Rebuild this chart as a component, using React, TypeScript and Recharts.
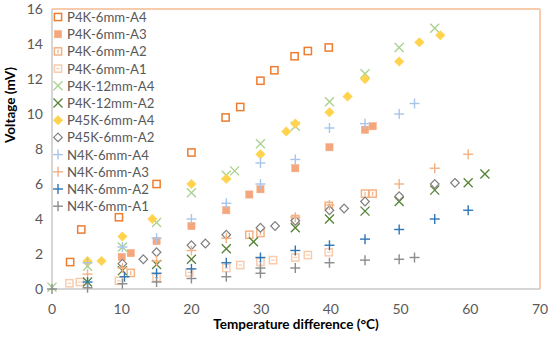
import React from 'react';
import { ScatterChart, Scatter, XAxis, YAxis, ReferenceLine, Label } from 'recharts';

type Pt = { x: number; y: number };
const P = (arr: number[][]): Pt[] => arr.map(([x, y]) => ({ x, y }));

const xTicks = [0, 10, 20, 30, 40, 50, 60, 70];
const yTicks = [0, 2, 4, 6, 8, 10, 12, 14, 16];

const p4k6A4 = P([[2.6,1.54],[4.2,3.4],[9.6,4.1],[15,6.0],[20,7.8],[24.9,9.8],[27,10.4],[29.9,11.9],[31.9,12.5],[34.8,13.3],[36.7,13.6],[39.7,13.8]]);
const p4k6A3 = P([[10,1.83],[11.3,2.05],[15,2.74],[20,3.6],[25,4.5],[28.3,5.4],[29.9,5.7],[34.9,6.9],[39.8,8.1],[44.9,9.1],[46,9.3]]);
const p4k6A2 = P([[11.3,0.92],[28.3,3.1],[29.9,3.2],[34.9,4.0],[39.7,4.75],[44.9,5.45],[46,5.45]]);
const p4k6A1 = P([[2.5,0.33],[4,0.4],[9.6,0.47],[15,0.65],[19.7,0.95],[25,1.2],[27,1.37],[29.9,1.55],[31.7,1.65],[34.9,1.8],[36.7,1.94],[39.7,2.1]]);
const p4k12A4 = P([[0,0.1],[5.1,1.3],[10.1,2.4],[15,3.8],[20,5.5],[25,6.5],[26.2,6.75],[29.9,8.3],[34.9,9.3],[39.8,10.7],[44.9,12.3],[49.8,13.8],[54.9,14.9]]);
const p4k12A2 = P([[5.1,0.4],[10.1,1.05],[15,1.4],[20,1.7],[25,2.3],[28.9,2.7],[34.9,3.5],[39.8,4.0],[44.9,4.45],[49.8,5.0],[54.9,5.65],[59.7,6.07],[62.1,6.57]]);
const p45k6A4 = P([[5.1,1.6],[7.1,1.6],[10.1,3.0],[14.4,4.0],[20,6.0],[25,6.3],[29.9,7.7],[33.6,9.0],[34.9,9.45],[39.8,10.1],[42.4,11.0],[44.9,12.0],[49.8,13.0],[52.7,14.1],[55.7,14.5]]);
const p45k6A2 = P([[10.1,1.45],[13.1,1.7],[15,2.1],[20,2.5],[22,2.6],[25,3.1],[29.9,3.5],[32,3.6],[34.9,3.9],[39.8,4.5],[41.9,4.6],[44.9,5.0],[49.8,5.3],[54.9,6.0],[57.8,6.07]]);
const n4k6A4 = P([[5.1,1.5],[10.1,2.4],[15,2.9],[20,4.0],[25,4.9],[29.9,6.0],[29.9,7.2],[34.9,7.4],[39.8,9.2],[44.9,9.45],[49.8,10.0],[52,10.6]]);
const n4k6A3 = P([[5.1,0.85],[10.1,1.2],[15,1.6],[20,2.2],[25,2.9],[34.9,4.1],[39.8,4.8],[49.8,6.0],[54.9,6.9],[59.7,7.7]]);
const n4k6A2 = P([[5.1,0.4],[10.4,0.7],[15,0.9],[20,1.15],[25,1.5],[29.9,1.8],[34.9,2.2],[39.8,2.5],[44.9,2.85],[49.8,3.4],[54.9,4.0],[59.7,4.5]]);
const n4k6A1 = P([[0,0],[5.1,0.07],[10.1,0.3],[15,0.4],[20,0.6],[25,0.7],[29.9,0.9],[29.9,1.2],[34.9,1.2],[39.8,1.5],[44.9,1.65],[49.8,1.7],[52,1.8]]);

type Kind = 'sq' | 'sqFill' | 'sqBar' | 'sqDash' | 'x' | 'diaFill' | 'dia' | 'plus';
const seriesNames = ['P4K-6mm-A4','P4K-6mm-A3','P4K-6mm-A2','P4K-6mm-A1','P4K-12mm-A4','P4K-12mm-A2','P45K-6mm-A4','P45K-6mm-A2','N4K-6mm-A4','N4K-6mm-A3','N4K-6mm-A2','N4K-6mm-A1'];
const seriesData = [p4k6A4, p4k6A3, p4k6A2, p4k6A1, p4k12A4, p4k12A2, p45k6A4, p45k6A2, n4k6A4, n4k6A3, n4k6A2, n4k6A1];
const seriesKinds: Kind[] = ['sq','sqFill','sqBar','sqDash','x','x','diaFill','dia','plus','plus','plus','plus'];
const seriesColors = ['#ED7D31','#F4A77C','#F4B183','#F8CBAD','#A9D18E','#548235','#FFD34D','#7F7F7F','#A9C4EB','#F4B183','#2E75B6','#8C8C8C'];

const Marker = ({ cx, cy, kind, color }: { cx: number; cy: number; kind: Kind; color: string }) => {
  if (cx == null || cy == null || isNaN(cx) || isNaN(cy)) return null;
  const s = 3.6;
  switch (kind) {
    case 'sq':
      return <rect x={cx - s} y={cy - s} width={2 * s} height={2 * s} fill="#fff" stroke={color} strokeWidth={1.5} />;
    case 'sqFill':
      return <rect x={cx - s} y={cy - s} width={2 * s} height={2 * s} fill={color} stroke={color} strokeWidth={0.5} />;
    case 'sqBar':
      return (
        <g>
          <rect x={cx - s} y={cy - s} width={2 * s} height={2 * s} fill="#fff" stroke={color} strokeWidth={1.5} />
          <line x1={cx} y1={cy - 2} x2={cx} y2={cy + 2} stroke={color} strokeWidth={1.2} />
        </g>
      );
    case 'sqDash':
      return (
        <g>
          <rect x={cx - s} y={cy - s} width={2 * s} height={2 * s} fill="#fff" stroke={color} strokeWidth={1.5} />
          <line x1={cx - 1.8} y1={cy} x2={cx + 1.8} y2={cy} stroke={color} strokeWidth={1.2} />
        </g>
      );
    case 'x':
      return (
        <g stroke={color} strokeWidth={1.3}>
          <line x1={cx - 4.5} y1={cy - 4.5} x2={cx + 4.5} y2={cy + 4.5} />
          <line x1={cx - 4.5} y1={cy + 4.5} x2={cx + 4.5} y2={cy - 4.5} />
        </g>
      );
    case 'diaFill':
      return <polygon points={`${cx},${cy - 4.8} ${cx + 4.8},${cy} ${cx},${cy + 4.8} ${cx - 4.8},${cy}`} fill={color} stroke={color} strokeWidth={0.5} />;
    case 'dia':
      return <polygon points={`${cx},${cy - 4.3} ${cx + 4.3},${cy} ${cx},${cy + 4.3} ${cx - 4.3},${cy}`} fill="#fff" stroke={color} strokeWidth={1.2} />;
    case 'plus':
    default:
      return (
        <g stroke={color} strokeWidth={1.4}>
          <line x1={cx - 5} y1={cy} x2={cx + 5} y2={cy} />
          <line x1={cx} y1={cy - 5} x2={cx} y2={cy + 5} />
        </g>
      );
  }
};

const FONT = 'Lato, "Open Sans", sans-serif';
const TEXT = '#595959';

export default function App() {
  return (
    <div style={{ position: 'absolute', left: 0, top: 0, width: 550, height: 337, background: '#fff' }}>
      <ScatterChart width={550} height={337} margin={{ top: 9, right: 10, bottom: 0, left: 0 }}>
        <XAxis
          type="number"
          dataKey="x"
          domain={[0, 70]}
          ticks={xTicks}
          tickLine={false}
          tickSize={6}
          tickMargin={9}
          height={48}
          axisLine={{ stroke: '#C8C8C8', strokeWidth: 1.5 }}
          tick={{ fill: TEXT, fontSize: 14, fontFamily: FONT }}
        >
          <Label
            content={() => (
              <text x={296} y={329} textAnchor="middle" fontFamily={FONT} fontWeight="bold" fontSize={13.5} fill="#000">
                Temperature difference (°C)
              </text>
            )}
          />
        </XAxis>
        <YAxis
          type="number"
          dataKey="y"
          domain={[0, 16]}
          ticks={yTicks}
          tickLine={false}
          tickSize={6}
          tickMargin={3}
          width={52}
          axisLine={{ stroke: '#C8C8C8', strokeWidth: 1.5 }}
          tick={{ fill: TEXT, fontSize: 14, fontFamily: FONT }}
        >
          <Label
            content={() => (
              <text x={10} y={105} transform="rotate(-90 10 105)" textAnchor="middle" dominantBaseline="central" fontFamily={FONT} fontWeight="bold" fontSize={13.5} fill="#000">
                Voltage (mV)
              </text>
            )}
          />
        </YAxis>
        <ReferenceLine y={16} stroke="#F8CBAD" strokeWidth={2} ifOverflow="visible" />
        <ReferenceLine x={70} stroke="#F8CBAD" strokeWidth={2} ifOverflow="visible" />
        {seriesData.map((d, i) => (
          <Scatter
            key={seriesNames[i]}
            name={seriesNames[i]}
            data={d}
            isAnimationActive={false}
            shape={(p: any) => <Marker cx={p.cx} cy={p.cy} kind={seriesKinds[i]} color={seriesColors[i]} />}
          />
        ))}
      </ScatterChart>
      <svg width={120} height={210} style={{ position: 'absolute', left: 52, top: 7 }}>
        {seriesNames.map((n, i) => {
          const cy = 10 + i * 17.2;
          return (
            <g key={n}>
              <Marker cx={6} cy={cy} kind={seriesKinds[i]} color={seriesColors[i]} />
              <text x={15} y={cy} dominantBaseline="central" fontFamily={FONT} fontSize={13.2} fill={TEXT}>
                {n}
              </text>
            </g>
          );
        })}
      </svg>
    </div>
  );
}
